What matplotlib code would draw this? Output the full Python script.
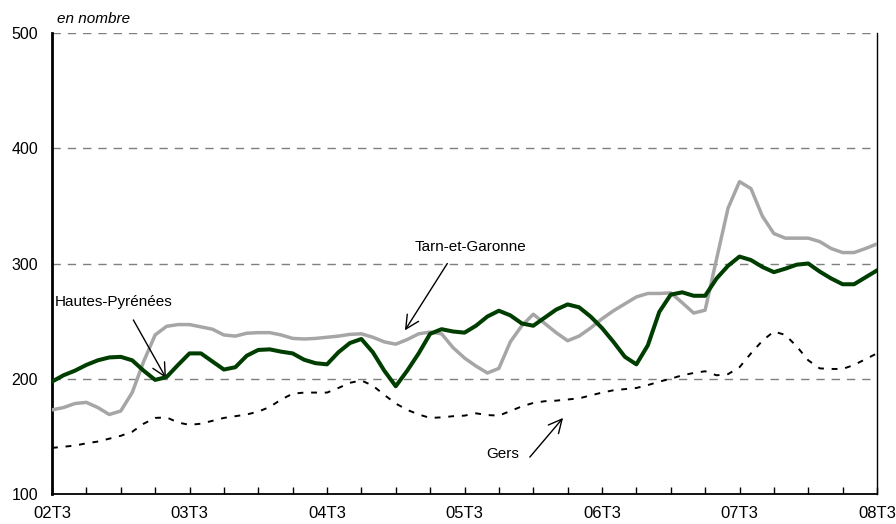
import numpy as np
import matplotlib

matplotlib.use("Agg")
import matplotlib.pyplot as plt

plt.rcParams["font.family"] = ["Liberation Sans", "DejaVu Sans"]

# monthly points, 02T3 -> 08T3
tick_labels = ["02T3", "03T3", "04T3", "05T3", "06T3", "07T3", "08T3"]

hautes_pyrenees = [
    197.5, 203, 207, 212, 216, 218.5, 219, 216, 207, 199,
    201.5, 212, 222, 222, 215, 208, 210, 220, 225, 225.5,
    223.5, 222, 216.5, 213.5, 212.5, 223, 231, 234.5, 223, 207,
    193.5, 207, 222, 239, 243, 241, 240, 246, 254, 259,
    255, 248, 246, 253, 260, 264.5, 262, 254, 244, 232,
    219, 212.5, 229, 258, 273, 275, 272, 272, 287, 298,
    306, 303, 297, 292.5, 295.5, 299, 300, 293, 287, 282,
    282, 288, 294,
]
tarn_et_garonne = [
    173, 175, 178.5, 179.5, 175, 169, 172, 188, 215, 238,
    245.5, 247, 247, 245, 243, 238, 237, 239.5, 240, 240,
    238, 235, 234.5, 235, 236, 237, 238.5, 239, 236, 232,
    230, 234, 239, 240.5, 239, 227, 218, 211, 205, 209,
    232, 246, 256, 248, 240, 233, 237, 244, 252, 259,
    265, 271, 274, 274, 274.5, 266, 257, 259.5, 304, 348,
    371, 365, 341, 326, 322, 322, 322, 319, 313, 309.5,
    309.5, 313, 317,
]
gers = [
    140, 141, 142, 144, 145.5, 148, 150.5, 154, 161, 166,
    166.5, 162, 160, 161, 163.5, 166, 167.5, 169, 171.5, 175.5,
    182, 187, 188, 188, 188, 192, 196.5, 198.5, 194, 186,
    178.5, 173, 169, 166, 166.5, 167.5, 168, 170, 168.5, 168,
    172, 176, 179, 180.5, 181, 182, 183, 185.5, 188, 190,
    191, 192, 194.5, 197.5, 200, 203, 205, 206.5, 203, 204,
    210, 222, 233, 241, 238, 228, 216, 209, 208.5, 208.5,
    212, 217, 222,
]

months = np.arange(len(gers))

fig = plt.figure(figsize=(8.96, 5.24), dpi=100)
ax = fig.add_axes([52 / 896, 1 - 494 / 524, 825 / 896, 461 / 524])

# ── grid lines ──
for v in [200, 300, 400, 500]:
    ax.axhline(v, color="#7f7f7f", lw=1.0, ls=(0, (6, 5)), zorder=1)

ax.plot(months, tarn_et_garonne, color="#a6a6a6", lw=2.5, zorder=3,
        solid_joinstyle="round")
ax.plot(months, hautes_pyrenees, color="#003d00", lw=2.9, zorder=4,
        solid_joinstyle="round")
ax.plot(months, gers, color="black", lw=1.4, ls=(0, (3, 4)), zorder=5)

ax.set_xlim(0, 72)
ax.set_ylim(100, 500)
ax.set_yticks([100, 200, 300, 400, 500])
ax.set_xticks(np.arange(0, 73, 3), minor=True)
ax.set_xticks(np.arange(0, 73, 12))
ax.set_xticklabels(tick_labels)
ax.tick_params(axis="x", which="both", direction="in", length=5, width=1,
               labelsize=12, pad=9)
ax.tick_params(axis="y", length=0, labelsize=11.5, pad=10)

ax.spines["top"].set_visible(False)
ax.spines["left"].set_linewidth(2.0)
ax.spines["bottom"].set_linewidth(1.3)
ax.spines["right"].set_linewidth(1.0)

# ── annotations ──
arrow = dict(arrowstyle="->", color="black", lw=1.0, mutation_scale=24,
             shrinkA=0, shrinkB=0)
ax.text(36.5, 314, "Tarn-et-Garonne", fontsize=11, ha="center", va="center")
ax.annotate("", xy=(30.8, 242), xytext=(34.5, 300), arrowprops=arrow)
ax.text(5.4, 267, "Hautes-Pyrénées", fontsize=11, ha="center", va="center")
ax.annotate("", xy=(9.95, 200.6), xytext=(7.1, 251), arrowprops=arrow)
ax.text(39.3, 134.7, "Gers", fontsize=11, ha="center", va="center")
ax.annotate("", xy=(44.6, 166), xytext=(41.7, 132), arrowprops=arrow)

fig.text(57 / 896, 1 - 19 / 524, "en nombre", fontsize=11, style="italic",
         va="center", ha="left")

fig.savefig("out.png", dpi=100, facecolor="white")
